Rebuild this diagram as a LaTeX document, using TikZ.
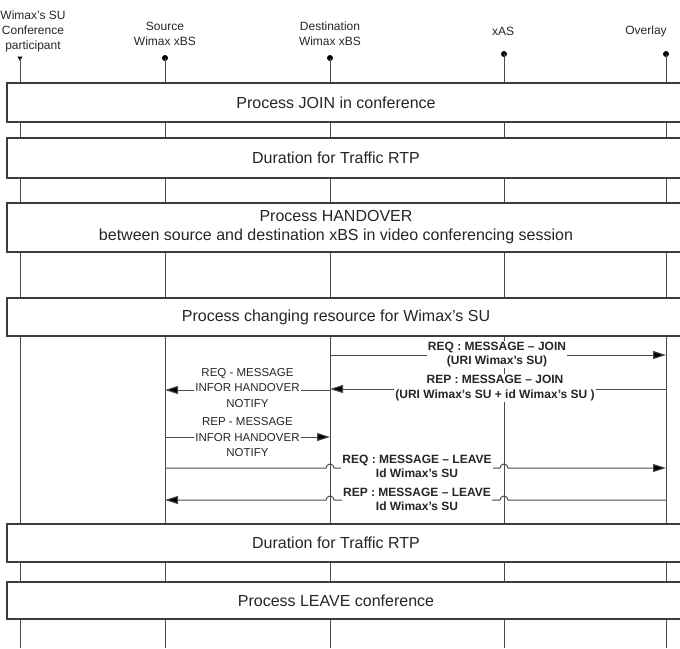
\documentclass[tikz,border=0pt]{standalone}
\usepackage{fontspec}
\setmainfont{Liberation Sans}
\usetikzlibrary{arrows.meta, shapes.geometric, positioning, calc}
\definecolor{linegray}{HTML}{4A4A4A}
\definecolor{boxgray}{HTML}{3C3C3C}
\definecolor{textgray}{HTML}{262626}

\begin{document}
\begin{tikzpicture}[x=1pt, y=-1pt,
    lifeline/.style={draw=linegray, line width=1pt},
    phase/.style={draw=boxgray, fill=white, line width=1.2pt},
    phasetext/.style={font=\fontsize{16}{19}\selectfont, text=textgray, align=center},
    head/.style={font=\fontsize{12}{15}\selectfont, text=textgray, align=center},
    msg/.style={->, >={Triangle[length=13pt, width=8pt, fill=black]}, draw=linegray, line width=1pt},
    boldlabel/.style={font=\bfseries\fontsize{12}{14.5}\selectfont, text=textgray, fill=white, inner sep=1pt, align=center},
    thinlabel/.style={font=\fontsize{11.5}{15.5}\selectfont, text=textgray, fill=white, inner sep=1pt, align=center},
    dot/.style={circle, fill=black, inner sep=0pt, minimum size=6pt}]

      \clip (0,0) rectangle (680,648);

      % participants
      \node[head] (hsu) at (33,31) {Wimax's SU\\Conference\\participant};
      \node[head] (hsrc) at (165,33.5) {Source\\Wimax xBS};
      \node[head] (hdst) at (330,33.5) {Destination\\Wimax xBS};
      \node[head] (hxas) at (503,31) {xAS};
      \node[head] (hovl) at (646,31) {Overlay};

      \node[regular polygon, regular polygon sides=3, shape border rotate=180, fill=black, inner sep=0pt, minimum size=6pt] (su) at (20,58) {};
      \node[dot] (src) at (165,58) {};
      \node[dot] (dst) at (330,58) {};
      \node[dot] (xas) at (504,54) {};
      \node[dot] (ovl) at (666,54) {};

      \coordinate (bot) at (0,648);
      \foreach \p in {su, src, dst, xas, ovl}
        \draw[lifeline] (\p.center) -- (\p |- bot);

      % phases
      \draw[phase] (7,83) rectangle (690,122);
      \node[phasetext] (join) at (336,102.5) {Process JOIN in conference};
      \draw[phase] (7,138) rectangle (690,178);
      \node[phasetext] (rtp1) at (336,158) {Duration for Traffic RTP};
      \draw[phase] (7,203) rectangle (690,252);
      \node[phasetext] (ho) at (336,227.5) {Process HANDOVER\\between source and destination xBS in video conferencing session};
      \draw[phase] (7,298) rectangle (690,336);
      \node[phasetext] (chg) at (336,317) {Process changing resource for Wimax's SU};
      \draw[phase] (7,524) rectangle (690,562);
      \node[phasetext] (rtp2) at (336,543) {Duration for Traffic RTP};
      \draw[phase] (7,582) rectangle (690,619);
      \node[phasetext] (leave) at (336,600.5) {Process LEAVE conference};

      % messages
      \coordinate (mreqjoin) at (0,355);
      \coordinate (mrepjoin) at (0,389);
      \coordinate (mreqho) at (0,390);
      \coordinate (mrepho) at (0,437);
      \coordinate (mreqlv) at (0,468);
      \coordinate (mreplv) at (0,500);

      \draw[msg] (dst |- mreqjoin) -- (ovl |- mreqjoin);
      \node[boldlabel] (lreqjoin) at (497,354.5) {REQ : MESSAGE -- JOIN\\(URI Wimax's SU)};

      \draw[msg] (ovl |- mrepjoin) -- (dst |- mrepjoin);
      \node[boldlabel] (lrepjoin) at (495,388) {REP : MESSAGE -- JOIN\\(URI Wimax's SU + id Wimax's SU )};

      \draw[msg] (dst |- mreqho) -- (src |- mreqho);
      \node[thinlabel] (lreqho) at (247.5,388) {REQ - MESSAGE\\INFOR HANDOVER\\NOTIFY};

      \draw[msg] (src |- mrepho) -- (dst |- mrepho);
      \node[thinlabel] (lrepho) at (247.5,437.5) {REP - MESSAGE\\INFOR HANDOVER\\NOTIFY};

      \draw[msg] (src |- mreqlv) -- ($(dst |- mreqlv)+(-4,0)$) arc[start angle=180, end angle=0, radius=4pt]
        -- ($(xas |- mreqlv)+(-4,0)$) arc[start angle=180, end angle=0, radius=4pt] -- (ovl |- mreqlv);
      \node[boldlabel] (lreqlv) at (417,466.5) {REQ : MESSAGE -- LEAVE\\Id Wimax's SU};

      \draw[msg] (ovl |- mreplv) -- ($(xas |- mreplv)+(4,0)$) arc[start angle=0, end angle=180, radius=4pt]
        -- ($(dst |- mreplv)+(4,0)$) arc[start angle=0, end angle=180, radius=4pt] -- (src |- mreplv);
      \node[boldlabel] (lreplv) at (417,499.5) {REP : MESSAGE -- LEAVE\\Id Wimax's SU};

    \end{tikzpicture}
\end{document}
